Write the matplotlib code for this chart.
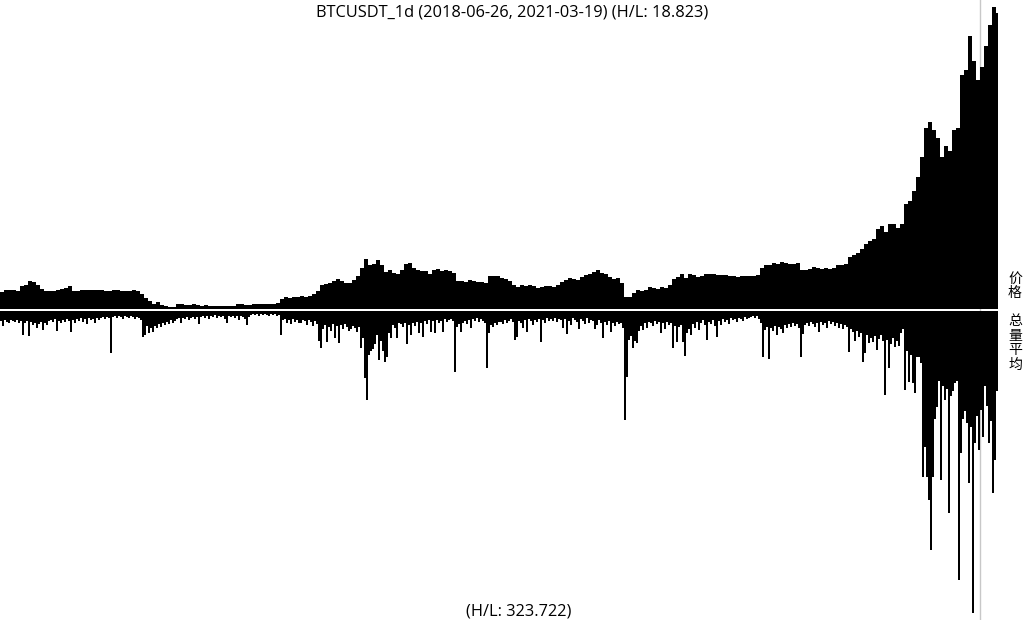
import matplotlib
matplotlib.use("Agg")
import matplotlib.pyplot as plt
from matplotlib.lines import Line2D
import numpy as np

plt.rcParams['font.family'] = ['Open Sans', 'Noto Sans CJK SC', 'DejaVu Sans']

symbol = "BTCUSDT_1d"
start_date = "2018-06-26"
end_date = "2021-03-19"
price_hl = 18.823
volume_hl = 323.722
n_days = 998

# close price, one value per 4 days (USDT)
price = [
    6100, 6550, 6650, 6500, 6350, 7350, 7600, 8250, 8050, 7450,
    6700, 6350, 6300, 6450, 6550, 6750, 7050, 7300, 6450, 6400,
    6500, 6550, 6650, 6600, 6550, 6600, 6450, 6450, 6500, 6500,
    6450, 6350, 6450, 6500, 6350, 5800, 5000, 4400, 4000, 4200,
    3800, 3500, 3350, 3400, 3900, 3950, 3750, 3800, 3950, 3800,
    3600, 3650, 3550, 3550, 3450, 3450, 3550, 3600, 3600, 3900,
    3950, 3800, 3800, 3850, 3900, 3950, 4000, 3980, 4000, 4100,
    4950, 5150, 5100, 5150, 5300, 5400, 5250, 5500, 5800, 6400,
    7500, 7700, 7900, 8300, 8600, 8300, 7900, 8000, 8500, 9300,
    10700, 12500, 11400, 11600, 12200, 11300, 10000, 10400, 9900, 9600,
    10300, 11600, 11700, 10800, 10400, 10200, 10200, 9600, 10400, 10500,
    10200, 10300, 10200, 9900, 8200, 8300, 8100, 8500, 8350, 8100,
    8150, 7900, 9300, 9200, 9300, 8900, 8700, 8300, 7500, 7200,
    7500, 7300, 7500, 7250, 6900, 7150, 7300, 7300, 7100, 7500,
    8050, 8400, 8900, 8650, 8400, 9100, 9350, 9600, 10000, 10300,
    9800, 9700, 9000, 8700, 8900, 8000, 5200, 5200, 6000, 6600,
    6300, 6600, 7100, 7000, 6800, 7100, 7000, 7600, 8700, 9000,
    9700, 8900, 9600, 9500, 9000, 9300, 9700, 9700, 9700, 9400,
    9450, 9450, 9250, 9150, 9100, 9250, 9250, 9200, 9150, 9500,
    10700, 11300, 11400, 11700, 11600, 12000, 11800, 11600, 11450, 11800,
    10300, 10300, 10500, 10900, 10700, 10600, 10750, 10600, 10750, 11400,
    11400, 11600, 12900, 13300, 13700, 14300, 15400, 15900, 16300, 18200,
    18800, 17600, 19200, 19100, 18300, 19200, 23000, 23500, 25500, 28200,
    32000, 37500, 38500, 37000, 35500, 32000, 34000, 33000, 37000, 37500,
    47500, 48500, 55000, 50300, 46500, 49000, 53000, 57000, 60500, 59300,
]

# volume, one value per 2 days (relative units)
volume = [
    10, 15, 9, 11, 12, 9, 10, 11, 9, 12, 10, 24, 12, 10, 25, 11, 14, 12, 17, 13, 11, 19, 12, 14, 10,
    9, 11, 8, 20, 10, 12, 9, 11, 8, 10, 21, 9, 12, 8, 10, 7, 11, 8, 13, 7, 9, 8, 12, 7, 9,
    7, 6, 8, 6, 7, 42, 6, 5, 7, 5, 6, 8, 5, 6, 7, 5, 6, 8, 6, 7, 9, 26, 24, 15, 22,
    17, 21, 15, 17, 13, 16, 12, 14, 11, 13, 9, 12, 10, 8, 7, 12, 7, 8, 6, 9, 7, 6, 8, 6, 13,
    6, 5, 7, 5, 8, 5, 6, 4, 7, 5, 6, 5, 8, 12, 5, 6, 5, 7, 5, 9, 5, 6, 8, 14, 6,
    4, 3, 4, 3, 5, 3, 4, 3, 4, 5, 3, 4, 3, 5, 4, 24, 9, 8, 12, 9, 13, 8, 11, 9, 12,
    12, 9, 10, 14, 9, 11, 15, 10, 13, 30, 37, 18, 14, 31, 16, 20, 13, 27, 15, 32, 14, 18, 13, 16, 20,
    18, 15, 17, 21, 16, 37, 27, 67, 89, 44, 40, 38, 33, 24, 49, 30, 40, 51, 46, 22, 27, 14, 17, 27, 12,
    13, 16, 12, 33, 14, 24, 12, 15, 11, 22, 12, 26, 10, 13, 9, 21, 10, 22, 9, 12, 10, 21, 8, 11, 9,
    8, 10, 61, 16, 13, 21, 12, 10, 13, 9, 17, 8, 10, 7, 11, 8, 10, 12, 57, 22, 14, 16, 12, 14, 11,
    11, 13, 9, 12, 10, 8, 11, 29, 26, 10, 12, 17, 9, 21, 8, 10, 14, 9, 11, 8, 31, 9, 12, 7, 10,
    8, 10, 7, 11, 8, 9, 17, 8, 23, 10, 14, 7, 9, 11, 18, 8, 10, 13, 7, 12, 9, 10, 18, 14, 9,
    12, 27, 11, 14, 10, 21, 12, 15, 11, 13, 12, 17, 109, 66, 29, 25, 37, 30, 32, 20, 15, 19, 12, 17, 11,
    12, 15, 10, 13, 11, 22, 12, 18, 11, 14, 12, 37, 15, 31, 16, 14, 31, 45, 22, 18, 24, 13, 17, 11, 19,
    12, 9, 14, 29, 11, 13, 9, 15, 26, 10, 14, 8, 11, 9, 13, 7, 9, 8, 11, 7, 8, 10, 6, 8, 7,
    6, 5, 7, 5, 8, 12, 46, 19, 16, 48, 17, 20, 15, 24, 16, 18, 22, 14, 17, 13, 16, 12, 15, 13, 17,
    46, 23, 14, 12, 15, 11, 13, 16, 12, 21, 11, 14, 12, 17, 10, 13, 11, 15, 12, 17, 13, 18, 14, 16, 41,
    18, 21, 30, 20, 26, 22, 51, 42, 24, 32, 27, 31, 25, 39, 28, 24, 30, 84, 29, 57, 33, 27, 36, 30, 35,
    22, 18, 79, 40, 71, 44, 72, 82, 46, 46, 52, 166, 136, 166, 189, 239, 166, 108, 96, 70, 169, 75, 89, 78, 202,
    85, 80, 72, 70, 269, 142, 108, 100, 112, 172, 116, 302, 132, 105, 139, 99, 126, 75, 95, 132, 110, 182, 149, 80,
]

cursor_day = 979.5

W, H = 1024, 620
fig = plt.figure(figsize=(W / 100, H / 100), dpi=100)
fig.patch.set_facecolor('white')

plot_w = n_days / W

# price panel
ax_p = fig.add_axes([0, (H - 308.5) / H, plot_w, 301.5 / H])
x_p = np.arange(len(price)) * 4
ax_p.bar(x_p, price, width=4, align='edge', bottom=0, color='black',
         linewidth=0, antialiased=False)
ax_p.set_xlim(0, n_days)
ax_p.set_ylim(3050, max(price))
ax_p.axis('off')
ax_p.patch.set_visible(False)

# volume panel, hanging down
ax_v = fig.add_axes([0, (H - 613) / H, plot_w, 301.7 / H])
x_v = np.arange(len(volume)) * 2
ax_v.bar(x_v, volume, width=2, align='edge', color='black',
         linewidth=0, antialiased=False)
ax_v.set_xlim(0, n_days)
ax_v.set_ylim(max(volume), 0)
ax_v.axis('off')
ax_v.patch.set_visible(False)

# cursor line behind the bars
fig.add_artist(Line2D([cursor_day / W, cursor_day / W], [0, 1], transform=fig.transFigure,
                      color='#c8c8c8', lw=1, zorder=-1))

fig.text(0.5, 1 - 16.7 / H, f"{symbol} ({start_date}, {end_date}) (H/L: {price_hl})",
         ha='center', va='baseline', fontsize=11.8)
fig.text(519 / W, 1 - 616 / H, f"(H/L: {volume_hl})", ha='center', va='baseline', fontsize=11.8)

fig.text(1015 / W, 1 - 300 / H, "价\n格", ha='center', va='bottom', fontsize=10,
         family=['Noto Sans CJK SC'], linespacing=1.05, fontweight='light')
fig.text(1015 / W, 1 - 314 / H, "总\n量\n平\n均", ha='center', va='top', fontsize=10,
         family=['Noto Sans CJK SC'], linespacing=1.05, fontweight='light')

fig.savefig("out.png", dpi=100)
